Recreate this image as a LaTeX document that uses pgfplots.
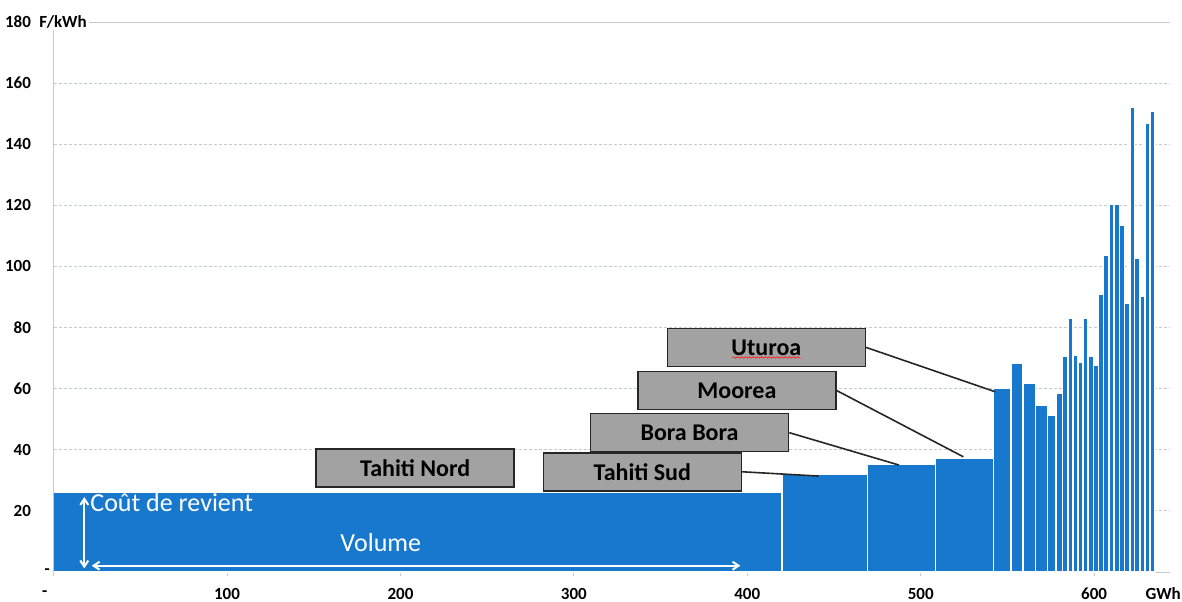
\documentclass[border=0pt]{standalone}
\usepackage{fontspec}
\setmainfont{Carlito}
\usepackage{pgfplots}
\usepackage{pgfplotstable}
\pgfplotsset{compat=1.18}
\usetikzlibrary{arrows.meta,decorations.pathmorphing}

\definecolor{barblue}{RGB}{24,120,206}
\definecolor{boxgray}{RGB}{162,162,162}
\definecolor{gridc}{RGB}{196,202,212}

% Cost curve: left edge of each block (GWh) and its cost (F/kWh);
% the last row only closes the final block.
\pgfplotstableread{
x y
0 26.2
420 32.0
469.4 35.4
508.5 37.2
542 60.0
552.2 68.3
559 61.8
566.3 54.7
573 51.4
578 58.5
581.7 70.5
584.9 83.0
587.8 71.0
590.8 68.8
593.7 83.0
596.5 70.5
599.6 67.8
602.4 90.9
605.5 103.8
608.5 120.3
611.5 120.3
614.6 113.6
617.6 87.9
620.6 152.1
623.4 102.7
626.4 90.4
629.4 146.9
632.3 150.7
635 0
}\costcurve

\begin{document}
\begin{tikzpicture}[
  lbl/.style={draw=black!85, line width=0.75pt, fill=boxgray,
    minimum width=99pt, minimum height=19pt, inner sep=0pt,
    font=\fontsize{12}{14}\selectfont\bfseries, text=black},
  lead/.style={line width=0.8pt, black!85}
]
\begin{axis}[
  name=ax,
  scale only axis,
  width=558.4pt, height=275pt,
  xmin=0, xmax=644, ymin=0, ymax=180,
  axis x line*=bottom, axis y line*=left,
  axis line style={gridc, line width=0.5pt, -},
  xtick={0,100,...,600},
  xticklabels={\llap{-\hspace{3.15pt}},100,200,300,400,500,600},
  ytick={0,20,...,160},
  yticklabels={\makebox[0pt][l]{\hspace{6.9pt}-},20,40,60,80,100,120,140,160},
  extra y ticks={180},
  extra y tick labels={180},
  extra y tick style={grid style={gridc, line width=0.45pt, solid}},
  tick label style={font=\fontsize{8.5}{10}\selectfont\bfseries, text=black},
  xticklabel style={anchor=center, yshift=-8.8pt},
  yticklabel style={anchor=east, xshift=-5.8pt},
  x tick style={gridc, line width=0.5pt},
  y tick style={draw=none},
  tick align=outside,
  major tick length=2pt,
  ymajorgrids,
  grid style={gridc, line width=0.45pt, dash pattern=on 1.5pt off 1pt},
]
\addplot[ybar interval, fill=barblue, draw=white, line width=0.75pt]
  table {\costcurve};

% reading aids inside the base block
\draw[white, line width=1pt, {Straight Barb[length=3pt,width=4pt]}-{Straight Barb[length=3pt,width=4pt]}]
  (axis cs:17.7,24.5) -- (axis cs:17.7,1.2);
\draw[white, line width=1pt, {Straight Barb[length=3pt,width=4pt]}-{Straight Barb[length=3pt,width=4pt]}]
  (axis cs:22,2.06) -- (axis cs:396,2.06);
\node[anchor=base west, inner sep=0pt, text=white, font=\fontsize{13}{15}\selectfont]
  at (axis cs:21,19.7) {Coût de revient};
\node[anchor=base, inner sep=0pt, text=white, font=\fontsize{13}{15}\selectfont]
  at (axis cs:188.7,6.6) {Volume};

% production zones
\node[lbl] (tn) at (axis cs:208.5,34.0) {Tahiti Nord};
\node[lbl] (ut) at (axis cs:411.0,73.5) {Uturoa};
\node[lbl] (mo) at (axis cs:394.0,59.4) {Moorea};
\node[lbl] (bb) at (axis cs:366.7,45.6) {Bora Bora};
\node[lbl] (ts) at (axis cs:339.5,32.8) {Tahiti Sud};
\draw[red!85, line width=0.4pt, decorate,
      decoration={snake, amplitude=0.35pt, segment length=2pt}]
  ([xshift=-17pt,yshift=-5pt]ut.center) -- ([xshift=17pt,yshift=-5pt]ut.center);

\draw[lead] (ts.east) -- (axis cs:441.1,31.4);
\draw[lead] (bb.east) -- (axis cs:487.5,35.0);
\draw[lead] (mo.east) -- (axis cs:524.6,37.7);
\draw[lead] (ut.east) -- (axis cs:542.9,59.0);
\end{axis}

\node[anchor=west, fill=white, inner sep=1pt, font=\fontsize{8.5}{10}\selectfont\bfseries]
  at ([xshift=-8.3pt]ax.north west) {F/kWh};
\node[anchor=center, font=\fontsize{8.5}{10}\selectfont\bfseries]
  at ([xshift=-3.6pt,yshift=-10.6pt]ax.south east) {GWh};

\pgfresetboundingbox
\path ([xshift=-26.8pt,yshift=-14.5pt]ax.south west)
  rectangle ([xshift=564.2pt,yshift=286pt]ax.south west);
\end{tikzpicture}
\end{document}
